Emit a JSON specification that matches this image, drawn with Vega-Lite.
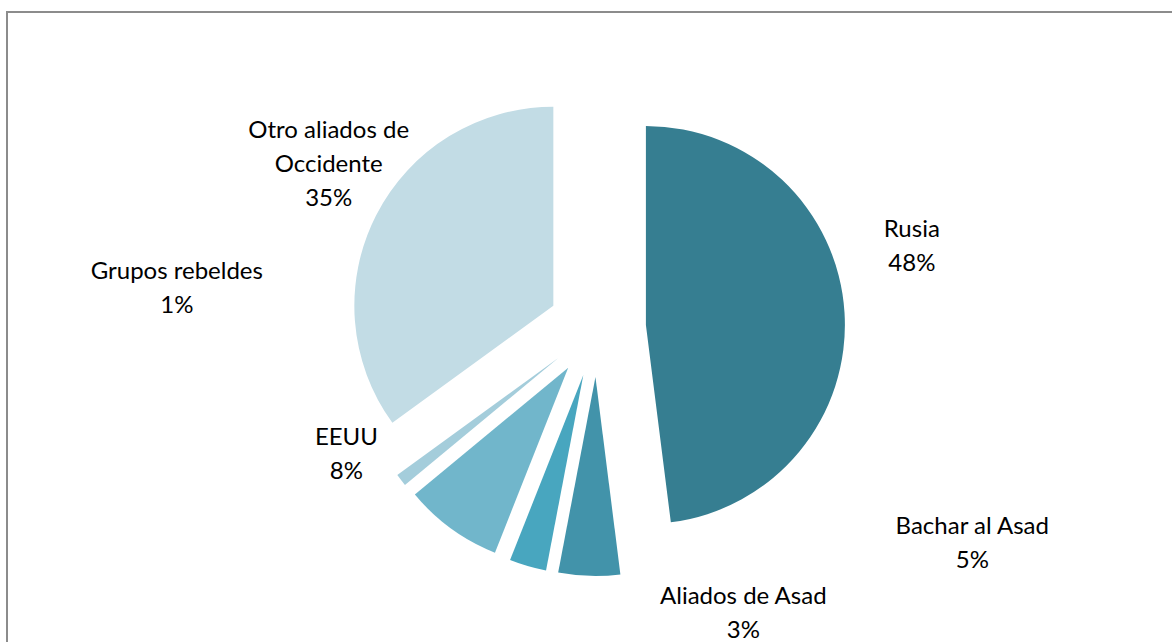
{
  "$schema": "https://vega.github.io/schema/vega-lite/v6.json",
  "width": 1180,
  "height": 632,
  "autosize": "none",
  "padding": {"left": 7, "top": 12, "right": -15, "bottom": -2},
  "background": "white",
  "view": {"stroke": "#8C8C8C", "strokeWidth": 2},
  "data": {
    "values": [
      {"category": "Rusia", "value": 48, "order": 1},
      {"category": "Bachar al Asad", "value": 5, "order": 2},
      {"category": "Aliados de Asad", "value": 3, "order": 3},
      {"category": "EEUU", "value": 8, "order": 4},
      {"category": "Grupos rebeldes", "value": 1, "order": 5},
      {"category": "Otro aliados de Occidente", "value": 35, "order": 6}
    ]
  },
  "encoding": {
    "theta": {"field": "value", "type": "quantitative", "stack": true},
    "order": {"field": "order", "type": "quantitative"}
  },
  "layer": [
    {
      "mark": {
        "type": "arc",
        "outerRadius": 199,
        "xOffset": {"expr": "49*sin(scale('theta',(datum.value_start+datum.value_end)/2))"},
        "yOffset": {"expr": "-49*cos(scale('theta',(datum.value_start+datum.value_end)/2))"}
      },
      "encoding": {
        "color": {
          "field": "category",
          "type": "nominal",
          "scale": {
            "domain": ["Rusia", "Bachar al Asad", "Aliados de Asad", "EEUU", "Grupos rebeldes", "Otro aliados de Occidente"],
            "range": ["#367E91", "#4293AA", "#48A6BF", "#71B6CB", "#A4CDDB", "#C2DCE5"]
          },
          "legend": null
        }
      }
    },
    {
      "mark": {
        "type": "text",
        "font": "Lato",
        "fontSize": 24,
        "lineHeight": 34,
        "lineBreak": "\n",
        "color": "#000000",
        "align": "center",
        "baseline": "middle",
        "dy": {"expr": "datum.category==='Otro aliados de Occidente'?-34:-17"},
        "radius": {"expr": "datum.category==='Rusia'?325:datum.category==='Bachar al Asad'?433:datum.category==='Aliados de Asad'?321:datum.category==='EEUU'?281:datum.category==='Grupos rebeldes'?422:314"},
        "thetaOffset": {"expr": "datum.category==='Rusia'?-0.188:datum.category==='Bachar al Asad'?-1.080:datum.category==='Aliados de Asad'?-0.756:datum.category==='EEUU'?0.473:datum.category==='Grupos rebeldes'?0.752:0.075"}
      },
      "encoding": {
        "text": {"value": {"expr": "replace(datum.category,'aliados de ','aliados de\\n') + '\\n' + datum.value + '%'"}}
      }
    }
  ]
}
